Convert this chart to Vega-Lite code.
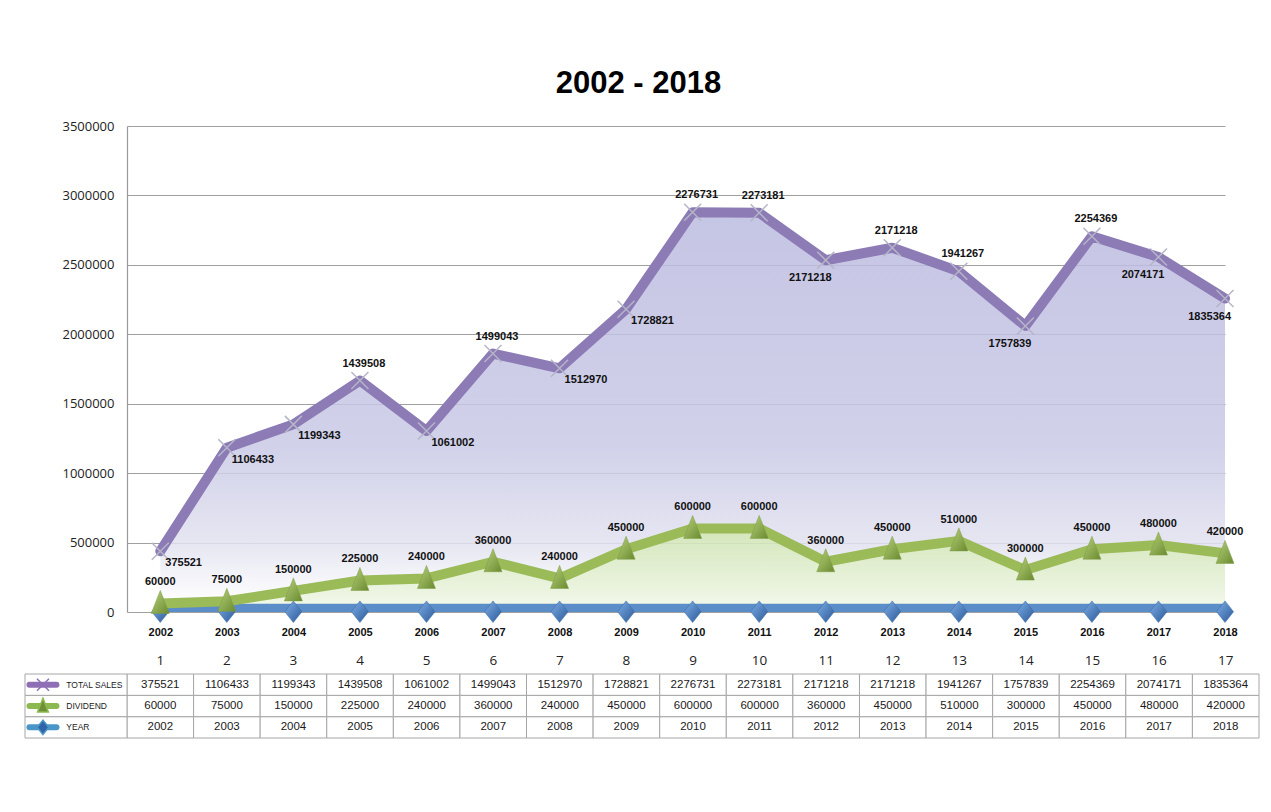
{
  "$schema": "https://vega.github.io/schema/vega-lite/v6.json",
  "background": "white",
  "padding": {"left": 17, "top": 68, "right": 5, "bottom": 5},
  "title": {"text": "2002 - 2018", "font": "Liberation Sans", "fontSize": 31, "fontWeight": "bold", "color": "#000000", "anchor": "middle", "offset": 20},
  "config": {"view": {"stroke": null}},
  "data": {"values": [
    {"n": 1, "YEAR": 2002, "TOTAL SALES": 375521, "DIVIDEND": 60000},
    {"n": 2, "YEAR": 2003, "TOTAL SALES": 1106433, "DIVIDEND": 75000},
    {"n": 3, "YEAR": 2004, "TOTAL SALES": 1199343, "DIVIDEND": 150000},
    {"n": 4, "YEAR": 2005, "TOTAL SALES": 1439508, "DIVIDEND": 225000},
    {"n": 5, "YEAR": 2006, "TOTAL SALES": 1061002, "DIVIDEND": 240000},
    {"n": 6, "YEAR": 2007, "TOTAL SALES": 1499043, "DIVIDEND": 360000},
    {"n": 7, "YEAR": 2008, "TOTAL SALES": 1512970, "DIVIDEND": 240000},
    {"n": 8, "YEAR": 2009, "TOTAL SALES": 1728821, "DIVIDEND": 450000},
    {"n": 9, "YEAR": 2010, "TOTAL SALES": 2276731, "DIVIDEND": 600000},
    {"n": 10, "YEAR": 2011, "TOTAL SALES": 2273181, "DIVIDEND": 600000},
    {"n": 11, "YEAR": 2012, "TOTAL SALES": 2171218, "DIVIDEND": 360000},
    {"n": 12, "YEAR": 2013, "TOTAL SALES": 2171218, "DIVIDEND": 450000},
    {"n": 13, "YEAR": 2014, "TOTAL SALES": 1941267, "DIVIDEND": 510000},
    {"n": 14, "YEAR": 2015, "TOTAL SALES": 1757839, "DIVIDEND": 300000},
    {"n": 15, "YEAR": 2016, "TOTAL SALES": 2254369, "DIVIDEND": 450000},
    {"n": 16, "YEAR": 2017, "TOTAL SALES": 2074171, "DIVIDEND": 480000},
    {"n": 17, "YEAR": 2018, "TOTAL SALES": 1835364, "DIVIDEND": 420000}
  ]},
  "spacing": 16,
  "vconcat": [
    {
      "width": 1098,
      "height": 486,
      "transform": [
        {"fold": ["YEAR", "DIVIDEND", "TOTAL SALES"], "as": ["series", "value"]},
        {"stack": "value", "groupby": ["n"], "as": ["v0", "v1"]}
      ],
      "encoding": {
        "x": {"field": "YEAR", "type": "ordinal", "scale": {"type": "point", "padding": 0.25, "align": 1},
          "axis": {"title": null, "labelAngle": 0, "labelFont": "Liberation Sans", "labelFontWeight": "bold", "labelFontSize": 11, "labelColor": "#111111", "ticks": false, "domain": false, "labelPadding": 14, "grid": false}}
      },
      "layer": [
        {
          "transform": [{"filter": {"field": "series", "equal": "TOTAL SALES"}}],
          "mark": {"type": "area", "fillOpacity": 0.85, "fill": {"gradient": "linear", "x1": 0, "y1": 0, "x2": 0, "y2": 1, "stops": [{"offset": 0, "color": "#bbbbe0"}, {"offset": 0.6, "color": "#c9c9e6"}, {"offset": 0.85, "color": "#e2e2f0"}, {"offset": 1, "color": "#ffffff"}]}},
          "encoding": {
            "y": {"field": "v1", "type": "quantitative", "scale": {"domain": [0, 3500000], "nice": false},
              "axis": {"title": null, "values": [0, 500000, 1000000, 1500000, 2000000, 2500000, 3000000, 3500000], "format": "d", "labelFont": "Open Sans", "labelFontSize": 13, "labelColor": "#222222", "ticks": false, "labelPadding": 13, "domainColor": "#9a9a9a", "domainWidth": 1.2, "grid": true, "gridColor": "#a0a0a0", "gridWidth": 1.2}},
            "y2": {"field": "v0"}
          }
        },
        {
          "transform": [{"filter": {"field": "series", "equal": "DIVIDEND"}}],
          "mark": {"type": "area", "fillOpacity": 0.9, "fill": {"gradient": "linear", "x1": 0, "y1": 0, "x2": 0, "y2": 1, "stops": [{"offset": 0, "color": "#cfe3b3"}, {"offset": 1, "color": "#f2f8ea"}]}},
          "encoding": {"y": {"field": "v1", "type": "quantitative"}, "y2": {"field": "v0"}}
        },
        {
          "transform": [{"filter": {"field": "series", "equal": "YEAR"}}],
          "mark": {"type": "line", "color": "#5b8dc8", "strokeWidth": 16, "clip": true},
          "encoding": {"y": {"field": "v1", "type": "quantitative"}}
        },
        {
          "transform": [{"filter": {"field": "series", "equal": "DIVIDEND"}}],
          "mark": {"type": "line", "color": "#9bbb59", "strokeWidth": 10, "strokeJoin": "round", "clip": true},
          "encoding": {"y": {"field": "v1", "type": "quantitative"}}
        },
        {
          "transform": [{"filter": {"field": "series", "equal": "TOTAL SALES"}}],
          "mark": {"type": "line", "color": "#8c7bb5", "strokeWidth": 10, "strokeJoin": "round", "strokeCap": "round"},
          "encoding": {"y": {"field": "v1", "type": "quantitative"}}
        },
        {
          "transform": [{"filter": {"field": "series", "equal": "YEAR"}}],
          "mark": {"type": "point", "shape": "M0,-1.2L0.95,0L0,1.2L-0.95,0Z", "size": 324, "filled": true, "opacity": 1, "fill": {"gradient": "linear", "x1": 0, "y1": 0, "x2": 1, "y2": 1, "stops": [{"offset": 0, "color": "#7eaee6"}, {"offset": 1, "color": "#2b5a99"}]}, "stroke": "#3a68a5", "strokeWidth": 0.5},
          "encoding": {"y": {"field": "v1", "type": "quantitative"}}
        },
        {
          "transform": [{"filter": {"field": "series", "equal": "DIVIDEND"}}],
          "mark": {"type": "point", "shape": "M0,-1.3L0.9,1L-0.9,1Z", "size": 400, "filled": true, "opacity": 1, "fill": {"gradient": "linear", "x1": 0, "y1": 0, "x2": 1, "y2": 1, "stops": [{"offset": 0, "color": "#b8d37c"}, {"offset": 1, "color": "#6a8a2f"}]}, "stroke": "#7d9a45", "strokeWidth": 0.5},
          "encoding": {"y": {"field": "v1", "type": "quantitative"}}
        },
        {
          "transform": [{"filter": {"field": "series", "equal": "TOTAL SALES"}}],
          "mark": {"type": "point", "shape": "M-1,-1L1,1M-1,1L1,-1", "size": 289, "filled": false, "opacity": 1, "stroke": "#b5b5c8", "strokeWidth": 1.5},
          "encoding": {"y": {"field": "v1", "type": "quantitative"}}
        },
        {
          "transform": [{"filter": {"field": "series", "equal": "TOTAL SALES"}}, {"filter": {"field": "YEAR", "oneOf": [2005, 2007, 2010, 2011, 2013, 2014, 2016]}}],
          "mark": {"type": "text", "font": "Liberation Sans", "fontWeight": "bold", "fontSize": 11, "color": "#111111", "align": "center", "baseline": "middle", "dx": 4, "dy": -17},
          "encoding": {"y": {"field": "v1", "type": "quantitative"}, "text": {"field": "value", "type": "quantitative", "format": "d"}}
        },
        {
          "transform": [{"filter": {"field": "series", "equal": "TOTAL SALES"}}, {"filter": {"field": "YEAR", "oneOf": [2002, 2003, 2004, 2006, 2008, 2009]}}],
          "mark": {"type": "text", "font": "Liberation Sans", "fontWeight": "bold", "fontSize": 11, "color": "#111111", "align": "left", "baseline": "middle", "dx": 5, "dy": 12},
          "encoding": {"y": {"field": "v1", "type": "quantitative"}, "text": {"field": "value", "type": "quantitative", "format": "d"}}
        },
        {
          "transform": [{"filter": {"field": "series", "equal": "TOTAL SALES"}}, {"filter": {"field": "YEAR", "oneOf": [2012, 2015, 2017, 2018]}}],
          "mark": {"type": "text", "font": "Liberation Sans", "fontWeight": "bold", "fontSize": 11, "color": "#111111", "align": "right", "baseline": "middle", "dx": 6, "dy": 18},
          "encoding": {"y": {"field": "v1", "type": "quantitative"}, "text": {"field": "value", "type": "quantitative", "format": "d"}}
        },
        {
          "transform": [{"filter": {"field": "series", "equal": "DIVIDEND"}}],
          "mark": {"type": "text", "font": "Liberation Sans", "fontWeight": "bold", "fontSize": 11, "color": "#111111", "align": "center", "baseline": "middle", "dy": -21},
          "encoding": {"y": {"field": "v1", "type": "quantitative"}, "text": {"field": "value", "type": "quantitative", "format": "d"}}
        }
      ]
    },
    {
      "width": 1132,
      "height": 64,
      "transform": [{"fold": ["YEAR", "DIVIDEND", "TOTAL SALES"], "as": ["series", "value"]}],
      "encoding": {
        "y": {"field": "series", "type": "nominal", "sort": ["TOTAL SALES", "DIVIDEND", "YEAR"], "scale": {"type": "band", "paddingInner": 0, "paddingOuter": 0}, "axis": null}
      },
      "layer": [
        {
          "encoding": {
            "x": {"field": "n", "type": "ordinal", "scale": {"type": "band", "paddingInner": 0, "paddingOuter": 0},
              "axis": {"orient": "top", "title": null, "labelAngle": 0, "labelFont": "Open Sans", "labelFontSize": 13.5, "labelColor": "#222222", "ticks": false, "domain": false, "labelPadding": 7}}
          },
          "layer": [
            {"mark": {"type": "rect", "fill": "white", "stroke": "#a6a6a6", "strokeWidth": 1}},
            {"mark": {"type": "text", "font": "Liberation Sans", "fontSize": 11.5, "color": "#1a1a1a"},
             "encoding": {"text": {"field": "value", "type": "quantitative", "format": "d"}}}
          ]
        },
        {
          "transform": [{"filter": {"field": "n", "equal": 1}}],
          "encoding": {
            "x": {"datum": "L", "type": "nominal", "scale": {"type": "band", "domain": ["L"], "range": [-102, 0], "paddingInner": 0, "paddingOuter": 0}, "axis": null}
          },
          "layer": [
            {"mark": {"type": "rect", "fill": "white", "stroke": "#a6a6a6", "strokeWidth": 1}},
            {"mark": {"type": "point", "shape": "M-1,0L1,0", "size": 729, "filled": false, "strokeWidth": 6, "strokeCap": "round", "opacity": 1},
             "encoding": {
               "x": {"datum": "L", "type": "nominal", "bandPosition": 0.176},
               "stroke": {"field": "series", "type": "nominal", "scale": {"domain": ["TOTAL SALES", "DIVIDEND", "YEAR"], "range": ["#8e6fb6", "#8cb950", "#4a96c8"]}, "legend": null}
             }},
            {"mark": {"type": "point", "size": 144, "filled": true, "opacity": 1, "strokeWidth": 1.5},
             "encoding": {
               "x": {"datum": "L", "type": "nominal", "bandPosition": 0.176},
               "shape": {"field": "series", "type": "nominal", "scale": {"domain": ["TOTAL SALES", "DIVIDEND", "YEAR"], "range": ["M-1,-1L1,1M-1,1L1,-1", "M0,-1.3L0.9,1L-0.9,1Z", "M0,-1.2L0.95,0L0,1.2L-0.95,0Z"]}, "legend": null},
               "fill": {"field": "series", "type": "nominal", "scale": {"domain": ["TOTAL SALES", "DIVIDEND", "YEAR"], "range": ["transparent", "#6f8f35", "#2f64a8"]}, "legend": null},
               "stroke": {"field": "series", "type": "nominal", "scale": {"domain": ["TOTAL SALES", "DIVIDEND", "YEAR"], "range": ["#6c6078", "#6f8f35", "#2f64a8"]}, "legend": null}
             }},
            {"mark": {"type": "text", "align": "left", "baseline": "middle", "font": "Liberation Sans", "fontSize": 8.5, "color": "#1a1a1a"},
             "encoding": {
               "x": {"datum": "L", "type": "nominal", "bandPosition": 0.405},
               "text": {"field": "series", "type": "nominal"}
             }}
          ]
        }
      ],
      "resolve": {"scale": {"x": "independent"}}
    }
  ]
}
